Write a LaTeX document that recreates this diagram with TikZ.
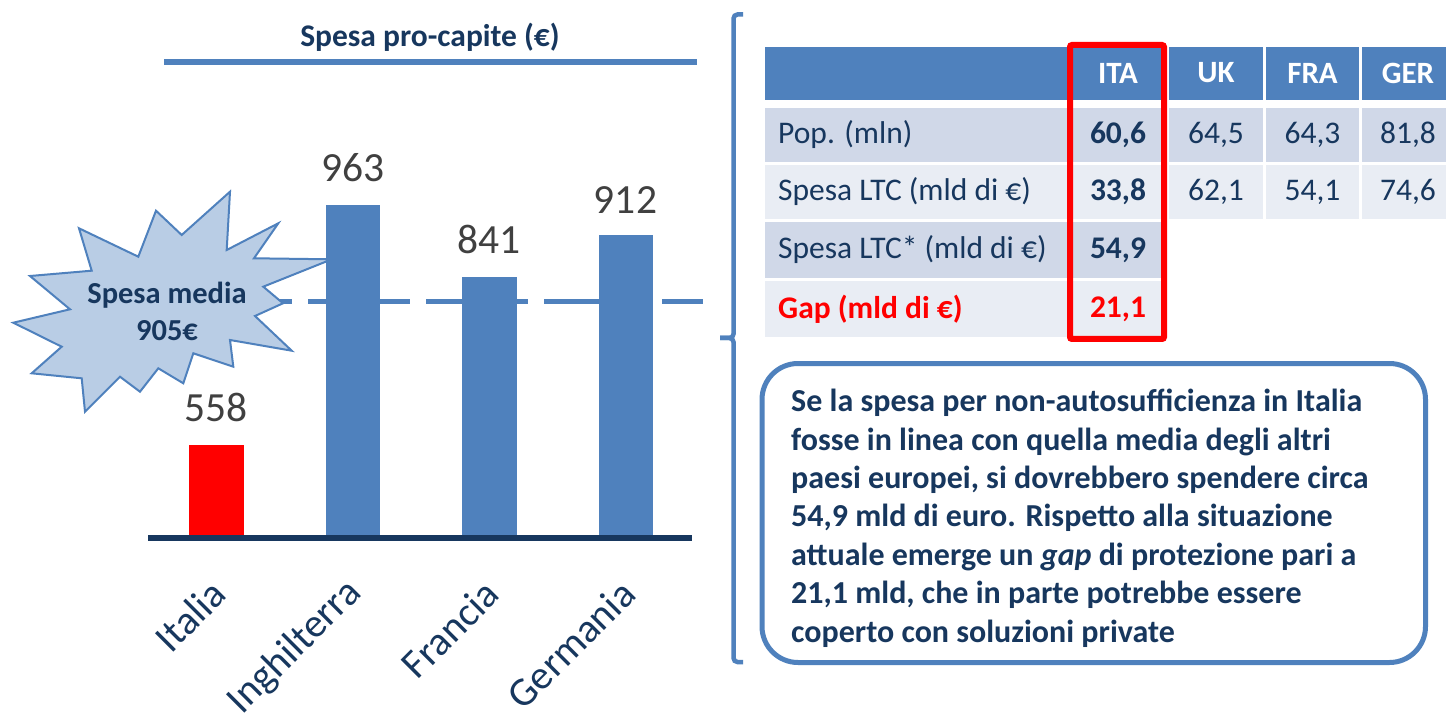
\documentclass[tikz,border=0pt]{standalone}
\usepackage{fontspec}
\setmainfont{Carlito}
\definecolor{acc}{HTML}{4F81BD}
\definecolor{navy}{HTML}{17375E}
\definecolor{graytxt}{HTML}{404040}
\definecolor{starfill}{HTML}{B9CDE5}
\definecolor{rowA}{HTML}{D0D8E8}
\definecolor{rowB}{HTML}{E9EDF4}
\definecolor{pure}{HTML}{FF0000}
\tikzset{
  val/.style={anchor=base, inner sep=0, text=graytxt, font=\fontsize{41.5}{50}\selectfont},
  cat/.style={anchor=east, inner sep=0, rotate=45, text=navy, font=\fontsize{40.5}{48}\selectfont},
  hdr/.style={inner sep=0, text=white, font=\bfseries\fontsize{31}{37}\selectfont},
  ctext/.style={inner sep=0, text=navy, font=\fontsize{31.5}{38}\selectfont},
  cbold/.style={ctext, font=\bfseries\fontsize{31.5}{38}\selectfont},
  boxline/.style={anchor=base west, inner sep=0, text=navy, font=\bfseries\fontsize{32}{38.4}\selectfont},
  brace/.style={draw=acc, line width=4.5pt, rounded corners=4pt},
}
\begin{document}
\begin{tikzpicture}[x=1pt,y=-1pt]
\useasboundingbox (0,0) rectangle (1446,719);
\fill[white] (0,0) rectangle (1446,719);

% title
\node[anchor=base, inner sep=0, text=navy, font=\bfseries\fontsize{31.5}{37}\selectfont] (title) at (430,46.7) {Spesa pro-capite (€)};
\draw[acc, line width=5.5pt] (164,62) -- (697,62);

% average dashed line (behind bars)
\coordinate (dashA) at (190,301.8);
\coordinate (dashB) at (703,301.8);
\draw[acc, line width=5pt, dash pattern=on 102pt off 16pt] (dashA) -- (dashB);

% bars
\fill[pure] (189,445) rectangle (244,538);
\fill[acc] (326,205) rectangle (380,538);
\fill[acc] (462,277) rectangle (516.5,538);
\fill[acc] (598.5,235) rectangle (653,538);

% axis
\draw[navy, line width=6pt] (148,538) -- (692,538);

% values
\node[val] (v1) at (216.3,421.7) {558};
\node[val] (v2) at (352.8,181.7) {963};
\node[val] (v3) at (489,253.4) {841};
\node[val] (v4) at (625.5,213.3) {912};

% category labels
\node[cat] (c1) at (219,587) {Italia};
\node[cat] (c2) at (355.5,587) {Inghilterra};
\node[cat] (c3) at (492,587) {Francia};
\node[cat] (c4) at (628.5,587) {Germania};

% starburst
\draw[draw=acc, fill=starfill, line width=2pt, line join=miter]
 (230,191.7) -- (226.7,250) -- (278.3,223.3) -- (254,258.3) -- (331.7,259.3)
 -- (263.3,286.7) -- (283,303.3) -- (255,316) -- (291.7,350.7) -- (230,340)
 -- (233.3,366.7) -- (193.3,353.3) -- (183.3,383.3) -- (158.3,368.3) -- (140,391.7)
 -- (120,376.7) -- (85,411.7) -- (81.7,378.3) -- (31.7,373.3) -- (61.7,346.7)
 -- (13.3,322.7) -- (70,309.3) -- (30,276) -- (91.7,270.7) -- (79,228.3)
 -- (138.3,256.7) -- (156,210.7) -- (181.7,235) -- cycle;
\node[align=center, inner sep=0, text=navy, font=\bfseries\fontsize{30.5}{37}\selectfont] (star) at (167,311) {Spesa media\\905€};

% bracket
\draw[brace] (743,14.5) -- (733.5,14.5) -- (733.5,338) -- (720,338);
\draw[brace] (720,338) -- (733.5,338) -- (733.5,662) -- (743,662);

% table header
\fill[acc] (765,47) rectangle (1068,100);
\fill[acc] (1068,47) rectangle (1166,100);
\fill[acc] (1169,47) rectangle (1263,100);
\fill[acc] (1266,47) rectangle (1359,100);
\fill[acc] (1362,47) rectangle (1446,100);
\node[hdr] (hITA) at (1118,73) {ITA};
\node[hdr] (hUK) at (1216,73) {UK};
\node[hdr] (hFRA) at (1312.5,73) {FRA};
\node[hdr] (hGER) at (1408,73) {GER};

% row 1
\fill[rowA] (765,108) rectangle (1068,162);
\fill[rowA] (1068,108) rectangle (1166,162);
\fill[rowA] (1169,108) rectangle (1263,162);
\fill[rowA] (1266,108) rectangle (1359,162);
\fill[rowA] (1362,108) rectangle (1446,162);
% row 2
\fill[rowB] (765,165) rectangle (1068,219);
\fill[rowB] (1068,165) rectangle (1166,219);
\fill[rowB] (1169,165) rectangle (1263,219);
\fill[rowB] (1266,165) rectangle (1359,219);
\fill[rowB] (1362,165) rectangle (1446,219);
% row 3
\fill[rowA] (765,222) rectangle (1068,278);
\fill[rowA] (1068,222) rectangle (1166,278);
% row 4
\fill[rowB] (765,281) rectangle (1068,337);
\fill[rowB] (1068,281) rectangle (1166,337);

\node[ctext, anchor=west] (l1) at (778,135) {Pop. (mln)};
\node[ctext, anchor=west] (l2) at (778,192) {Spesa LTC (mld di €)};
\node[ctext, anchor=west] (l3) at (778,250) {Spesa LTC* (mld di €)};
\node[cbold, anchor=west, text=pure] (l4) at (778,309) {Gap (mld di €)};

\node[cbold] (i1) at (1118,135) {60,6};
\node[cbold] (i2) at (1118,192) {33,8};
\node[cbold] (i3) at (1118,250) {54,9};
\node[cbold, text=pure] (i4) at (1118,309) {21,1};

\node[ctext] (u1) at (1216,135) {64,5};
\node[ctext] (f1) at (1312.5,135) {64,3};
\node[ctext] (g1) at (1408,135) {81,8};
\node[ctext] (u2) at (1216,192) {62,1};
\node[ctext] (f2) at (1312.5,192) {54,1};
\node[ctext] (g2) at (1408,192) {74,6};

% red highlight
\draw[pure, line width=6pt, rounded corners=2pt] (1070,45) rectangle (1164,339);

% text box
\draw[acc, line width=5pt, rounded corners=36pt] (762,363.5) rectangle (1425.5,662.5);
\node[boxline] (t1) at (791,411.7) {Se la spesa per non-autosufficienza in Italia};
\node[boxline] (t2) at (791,450.1) {fosse in linea con quella media degli altri};
\node[boxline] (t3) at (791,488.5) {paesi europei, si dovrebbero spendere circa};
\node[boxline] (t4) at (791,526.9) {54,9 mld di euro. Rispetto alla situazione};
\node[boxline] (t5) at (791,565.3) {attuale emerge un \textit{gap} di protezione pari a};
\node[boxline] (t6) at (791,603.7) {21,1 mld, che in parte potrebbe essere};
\node[boxline] (t7) at (791,642.1) {coperto con soluzioni private};
\end{tikzpicture}
\end{document}
